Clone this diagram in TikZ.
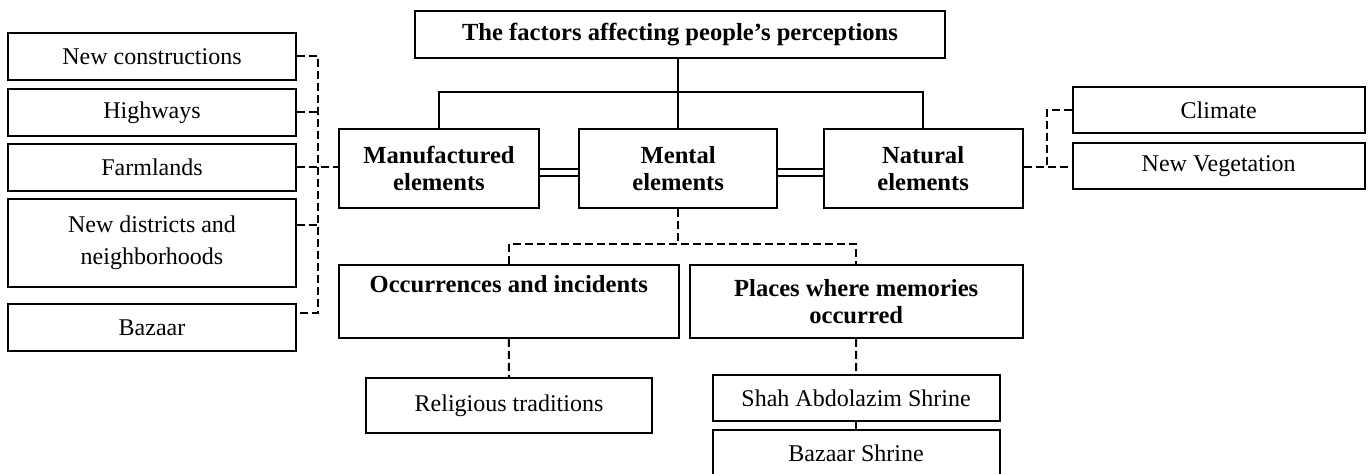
\documentclass[tikz,border=0pt]{standalone}
\usepackage{fontspec}
\setmainfont{Liberation Serif}
\begin{document}
\begin{tikzpicture}[x=0.5pt,y=-0.5pt,
  box/.style={draw, line width=1pt, inner sep=0pt, align=center, font=\fontsize{12}{15.8}\selectfont},
  mbox/.style={box, font=\bfseries\fontsize{12.3}{13.4}\selectfont},
  dsh/.style={line width=1pt, dash pattern=on 4pt off 2pt},
  tree/.style={line width=1.1pt}]
\useasboundingbox (0,0) rectangle (1369,474);
% top
\node[mbox, minimum width=265pt, minimum height=23.5pt] (title) at (680,34.5) {The factors affecting people’s perceptions};
\node[mbox, minimum width=100pt, minimum height=39.5pt] (manu) at (439,168.5) {Manufactured\\elements};
\node[mbox, minimum width=98.75pt, minimum height=39.5pt] (mental) at (678.2,168.5) {Mental\\elements};
\node[mbox, minimum width=99.5pt, minimum height=39.5pt] (natural) at (923.1,168.5) {Natural\\elements};
% right
\node[box, minimum width=146pt, minimum height=23pt] (climate) at (1218.7,110.3) {Climate};
\node[box, minimum width=146pt, minimum height=23pt] (veg) at (1218.7,166.3) {New Vegetation};
% left
\node[box, minimum width=144pt, minimum height=23.5pt] (nc) at (152,56.5) {New constructions};
\node[box, minimum width=144pt, minimum height=23.5pt] (hw) at (152,112.5) {Highways};
\node[box, minimum width=144pt, minimum height=23.5pt] (fl) at (152,167.5) {Farmlands};
\node[box, minimum width=144pt, minimum height=44pt] (nd) at (152,243) {New districts and\\neighborhoods};
\node[box, minimum width=144pt, minimum height=23.5pt] (bz) at (152,327.5) {Bazaar};
% lower
\node[mbox, minimum width=169.8pt, minimum height=36.5pt] (occ) at (508.8,301.5) {Occurrences and incidents\\\strut};
\node[mbox, minimum width=166.5pt, minimum height=36.5pt] (places) at (856.2,301.5) {Places where memories\\occurred};
\node[box, minimum width=143pt, minimum height=27.5pt] (rel) at (509,405.5) {Religious traditions};
\node[box, minimum width=143.6pt, minimum height=23pt] (shah) at (856.1,398) {Shah Abdolazim Shrine};
\node[box, minimum width=143.6pt, minimum height=23.5pt] (bzs) at (856.1,453.5) {Bazaar Shrine};
% tree connectors
\coordinate (bar) at (678.2,92);
\draw[tree] (title.south -| mental.north) -- (mental.north);
\draw[tree] (manu.north) |- (bar) -| (natural.north);
\draw[double, double distance=2.5pt, line width=0.9pt] ([yshift=-2pt]manu.east) -- ([yshift=-2pt]mental.west);
\draw[double, double distance=2.5pt, line width=0.9pt] ([yshift=-2pt]mental.east) -- ([yshift=-2pt]natural.west);
% left dashed bus
\coordinate (lbt) at (318,56.5);
\coordinate (lbb) at (318,313);
\draw[dsh] (nc.east) -- (lbt) -- (lbb) -- ([yshift=7.25pt]bz.east);
\draw[dsh] (hw.east) -- (hw.east -| lbt);
\draw[dsh] (fl.east) -- (fl.east -| manu.west);
\draw[dsh] ([yshift=9pt]nd.east) -- ([yshift=9pt]nd.east -| lbt);
% right dashed
\coordinate (rj) at (1046.7,167.3);
\draw[dsh] (natural.east |- rj) -- (veg.west |- rj);
\draw[dsh] (climate.west) -| (rj);
% lower dashed
\coordinate (mj) at (678.2,244);
\draw[dsh] (mental.south) -- (mj);
\draw[dsh] (occ.north) |- (mj) -| (places.north);
\draw[dsh] (occ.south) -- (rel.north);
\draw[dsh] (places.south) -- (shah.north);
\draw[dsh] (shah.south) -- (bzs.north);
\end{tikzpicture}
\end{document}
